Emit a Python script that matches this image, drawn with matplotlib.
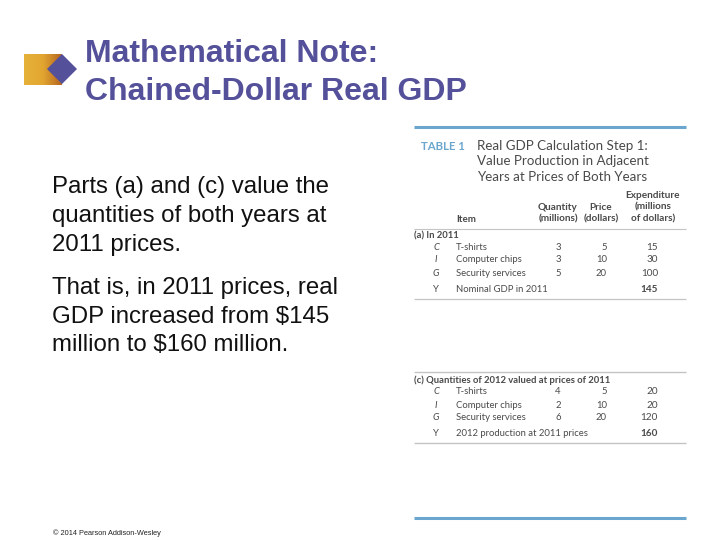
import numpy as np
import matplotlib
matplotlib.use('Agg')
import matplotlib.pyplot as plt
from matplotlib.colors import LinearSegmentedColormap
from matplotlib.patches import Polygon

title_lines = ['Mathematical Note:', 'Chained-Dollar Real GDP']
body_1 = ['Parts (a) and (c) value the', 'quantities of both years at', '2011 prices.']
body_2 = ['That is, in 2011 prices, real', 'GDP increased from $145', 'million to $160 million.']
footer = '© 2014 Pearson Addison-Wesley'

table_title = ['Real GDP Calculation Step 1:', 'Value Production in Adjacent', 'Years at Prices of Both Years']
symbols = ['C', 'I', 'G', 'Y']
items_a = ['T-shirts', 'Computer chips', 'Security services', 'Nominal GDP in 2011']
qty_a = ['3', '3', '5', '']
price_a = ['5', '10', '20', '']
spend_a = ['15', '30', '100', '145']
items_c = ['T-shirts', 'Computer chips', 'Security services', '2012 production at 2011 prices']
qty_c = ['4', '2', '6', '']
price_c = ['5', '10', '20', '']
spend_c = ['20', '20', '120', '160']

PURPLE = '#54509A'
BLUE = '#6BA6CE'
GREY = '#C4C4C4'
TXT = '#4A4A4A'
SANS = 'Liberation Sans'
TAB = 'Lato'

fig = plt.figure(figsize=(7.2, 5.4), dpi=100)
ax = fig.add_axes([0, 0, 1, 1])
ax.set_xlim(0, 720)
ax.set_ylim(540, 0)
ax.axis('off')

# header logo
cmap = LinearSegmentedColormap.from_list('logo', ['#E6B23A', '#E2A630', '#B5651F'])
ax.imshow(np.linspace(0, 1, 64).reshape(1, -1), cmap=cmap, extent=(24, 62, 85, 54), aspect='auto', zorder=1)
ax.set_xlim(0, 720)
ax.set_ylim(540, 0)
ax.add_patch(Polygon([(47, 69), (62, 54), (77, 69), (62, 84)], closed=True, fc=PURPLE, ec='none', zorder=2))

for y, line in zip([62, 100], title_lines):
    ax.text(85, y, line, color=PURPLE, fontsize=23, family=SANS, va='baseline', ha='left', fontweight='bold')

for y, line in zip([187, 216, 245], body_1):
    ax.text(52, y, line, color='#111111', fontsize=17.3, family=SANS, va='center')
for y, line in zip([288, 317, 345], body_2):
    ax.text(52, y, line, color='#111111', fontsize=17.3, family=SANS, va='center')

ax.text(53, 533, footer, color='#222222', fontsize=5.3, family=SANS, va='center')

# table rules
ax.plot([414, 686], [127, 127], color=BLUE, lw=2.2, solid_capstyle='butt')
ax.plot([414, 686], [518, 518], color=BLUE, lw=2.2, solid_capstyle='butt')
for y, w in [(229, 0.8), (299, 0.9), (372, 1.0), (443, 1.0)]:
    ax.plot([414, 686], [y, y], color=GREY, lw=w, solid_capstyle='butt')

# table title
ax.text(421, 146, 'TABLE 1', color=BLUE, fontsize=8.2, family=TAB, fontweight='bold', va='center')
for y, line in zip([146, 161, 177], table_title):
    ax.text(477, y, line, color=TXT, fontsize=9.6, family=TAB, va='center')

# column heads
for x, y, label in [(558, 207, 'Quantity'), (558, 219, '(millions)'),
                    (601, 207, 'Price'), (601, 219, '(dollars)'),
                    (653, 195, 'Expenditure'), (653, 207, '(millions'), (653, 219, 'of dollars)')]:
    ax.text(x, y, label, color=TXT, fontsize=7.2, family=TAB, fontweight='bold', va='center', ha='center')
ax.text(456, 219, 'Item', color=TXT, fontsize=7, family=TAB, fontweight='bold', va='center')


def draw_panel(head, y_head, rows_y, items, qty, price, spend):
    ax.text(414, y_head, head, color=TXT, fontsize=6.8, family=TAB, fontweight='bold', va='center')
    for i, y in enumerate(rows_y):
        last = i == len(rows_y) - 1
        ax.text(436, y, symbols[i], color=TXT, fontsize=6.8, family=TAB, style='italic' if not last else 'normal',
                va='center', ha='center')
        ax.text(456, y, items[i], color=TXT, fontsize=6.8, family=TAB, va='center')
        ax.text(558, y, qty[i], color=TXT, fontsize=6.8, family=TAB, va='center', ha='center')
        ax.text(607, y, price[i], color=TXT, fontsize=6.8, family=TAB, va='center', ha='right')
        ax.text(658, y, spend[i], color=TXT, fontsize=7.2, family=TAB, va='center', ha='right',
                fontweight='bold' if last else 'normal')


draw_panel('(a) In 2011', 236, [247, 260, 273, 289], items_a, qty_a, price_a, spend_a)
draw_panel('(c) Quantities of 2012 valued at prices of 2011', 380, [392, 405, 417, 433], items_c, qty_c, price_c, spend_c)

fig.savefig('out.png', dpi=100)
